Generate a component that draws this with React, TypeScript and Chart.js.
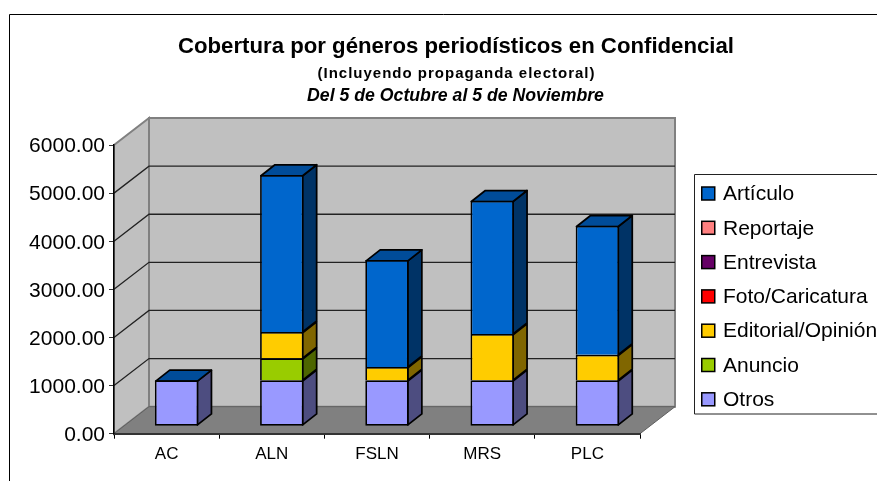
import React, { useEffect, useRef } from "react";
import { Chart, registerables } from "chart.js";

Chart.register(...registerables);

const categories = ["AC", "ALN", "FSLN", "MRS", "PLC"];
const otros = [956, 956, 956, 956, 956];
const anuncio = [0, 458, 0, 0, 0];
const editorial = [0, 547, 276, 963, 533];
const foto = [0, 0, 0, 0, 0];
const entrevista = [0, 0, 0, 0, 0];
const reportaje = [0, 0, 0, 0, 0];
const articulo = [0, 3264, 2225, 2771, 2681];
const yTicks = [0, 1000, 2000, 3000, 4000, 5000, 6000];

const titleMain = "Cobertura por géneros periodísticos en Confidencial";
const titleSub = "(Incluyendo propaganda electoral)";
const titleDates = "Del 5 de Octubre al 5 de Noviembre";

const FONT = '"Liberation Sans", Arial, sans-serif';

const seriesDefs = [
  { label: "Otros", data: otros, color: "#9999FF", side: "#4D4D80" },
  { label: "Anuncio", data: anuncio, color: "#99CC00", side: "#4D6600" },
  { label: "Editorial/Opinión", data: editorial, color: "#FFCC00", side: "#806600" },
  { label: "Foto/Caricatura", data: foto, color: "#FF0000", side: "#800000" },
  { label: "Entrevista", data: entrevista, color: "#660066", side: "#330033" },
  { label: "Reportaje", data: reportaje, color: "#FF8080", side: "#804040" },
  { label: "Artículo", data: articulo, color: "#0066CC", side: "#003366" },
];
const TOP_FACE = "#004C99";

// wall depth and bar placement inside the depth
const WALL_DX = 35;
const WALL_DY = -27;
const BAR_DX = 10;
const BAR_DY = -7.4;
const BAR_DEPTH_X = 14;
const BAR_DEPTH_Y = -11;
const LINE = 1.75;

function poly(ctx: CanvasRenderingContext2D, pts: number[][]) {
  ctx.beginPath();
  pts.forEach((p, i) => (i ? ctx.lineTo(p[0], p[1]) : ctx.moveTo(p[0], p[1])));
  ctx.closePath();
}

const scene = {
  id: "scene",
  beforeDraw(chart: any) {
    const ctx: any = chart.ctx;
    const { left, right } = chart.chartArea;
    const y = chart.scales.y;
    const top = y.getPixelForValue(6000);
    const bot = y.getPixelForValue(0);
    ctx.save();
    // outer frame: only its left and top edges fall inside the picture
    ctx.strokeStyle = "#000";
    ctx.lineWidth = 1;
    ctx.beginPath();
    ctx.moveTo(9.5, 481);
    ctx.lineTo(9.5, 14.5);
    ctx.lineTo(877, 14.5);
    ctx.stroke();

    // titles
    ctx.fillStyle = "#000";
    ctx.textAlign = "center";
    ctx.textBaseline = "alphabetic";
    ctx.font = `bold 22.2px ${FONT}`;
    ctx.fillText(titleMain, 456, 53);
    ctx.font = `bold 15px ${FONT}`;
    ctx.letterSpacing = "1px";
    ctx.fillText(titleSub, 456.5, 77.5);
    ctx.letterSpacing = "0px";
    ctx.font = `italic bold 17.7px ${FONT}`;
    ctx.fillText(titleDates, 455.5, 101);

    // walls and floor
    ctx.lineWidth = 2;
    ctx.strokeStyle = "#808080";
    ctx.fillStyle = "#C0C0C0";
    poly(ctx, [[left + WALL_DX, top + WALL_DY], [right + WALL_DX, top + WALL_DY], [right + WALL_DX, bot + WALL_DY], [left + WALL_DX, bot + WALL_DY]]);
    ctx.fill();
    ctx.stroke();
    poly(ctx, [[left, top], [left + WALL_DX, top + WALL_DY], [left + WALL_DX, bot + WALL_DY], [left, bot]]);
    ctx.fill();
    ctx.stroke();
    ctx.fillStyle = "#808080";
    ctx.strokeStyle = "#606060";
    ctx.lineWidth = 1;
    poly(ctx, [[left, bot], [left + WALL_DX, bot + WALL_DY], [right + WALL_DX, bot + WALL_DY], [right, bot]]);
    ctx.fill();
    ctx.stroke();

    // gridlines on the walls
    ctx.strokeStyle = "#222";
    ctx.lineWidth = 1.3;
    yTicks.slice(1, -1).forEach((v) => {
      const py = y.getPixelForValue(v);
      ctx.beginPath();
      ctx.moveTo(left, py);
      ctx.lineTo(left + WALL_DX, py + WALL_DY);
      ctx.lineTo(right + WALL_DX, py + WALL_DY);
      ctx.stroke();
    });

    // legend
    const lx = 694.5, ly = 174.5, lh = 239.5;
    ctx.fillStyle = "#fff";
    ctx.fillRect(lx, ly, 877 - lx, lh);
    ctx.strokeStyle = "#222";
    ctx.lineWidth = 1;
    ctx.beginPath();
    ctx.moveTo(877, ly);
    ctx.lineTo(lx, ly);
    ctx.lineTo(lx, ly + lh);
    ctx.lineTo(877, ly + lh);
    ctx.stroke();
    ctx.textAlign = "left";
    ctx.textBaseline = "middle";
    ctx.font = `21px ${FONT}`;
    [...seriesDefs].reverse().forEach((s, i) => {
      const cy = 193.5 + i * 34.3;
      ctx.fillStyle = s.color;
      ctx.fillRect(701.75, cy - 6.5, 13, 13);
      ctx.strokeStyle = "#000";
      ctx.lineWidth = 1.5;
      ctx.strokeRect(701.75, cy - 6.5, 13, 13);
      ctx.fillStyle = "#000";
      ctx.fillText(s.label, 723, cy + 1);
    });
    ctx.restore();
  },
  beforeDatasetsDraw(chart: any) {
    const ctx: CanvasRenderingContext2D = chart.ctx;
    ctx.save();
    ctx.strokeStyle = "#000";
    ctx.lineWidth = LINE;
    ctx.lineJoin = "round";
    const tops = categories.map(() => null as any);
    seriesDefs.forEach((s, d) => {
      chart.getDatasetMeta(d).data.forEach((el: any, i: number) => {
        const xr = el.x + el.width / 2 + BAR_DX - LINE / 2;
        const yt = el.y + BAR_DY + LINE / 2;
        const yb = el.base + BAR_DY - (d === 0 ? LINE / 2 : 0);
        if (s.data[i] > 0) {
          ctx.fillStyle = s.side;
          poly(ctx, [[xr, yt], [xr + BAR_DEPTH_X, yt + BAR_DEPTH_Y], [xr + BAR_DEPTH_X, yb + BAR_DEPTH_Y], [xr, yb]]);
          ctx.fill();
          ctx.stroke();
          tops[i] = { xr, xl: el.x - el.width / 2 + BAR_DX + LINE / 2, yt };
        }
      });
    });
    tops.forEach((t) => {
      if (!t) return;
      ctx.fillStyle = TOP_FACE;
      poly(ctx, [[t.xl, t.yt], [t.xr, t.yt], [t.xr + BAR_DEPTH_X, t.yt + BAR_DEPTH_Y], [t.xl + BAR_DEPTH_X, t.yt + BAR_DEPTH_Y]]);
      ctx.fill();
      ctx.stroke();
    });
    ctx.restore();
    // the library's own bars become the front faces, moved into the depth
    ctx.save();
    ctx.translate(BAR_DX, BAR_DY);
  },
  afterDatasetsDraw(chart: any) {
    chart.ctx.restore();
  },
};

export default function App() {
  const ref = useRef<HTMLCanvasElement>(null);
  useEffect(() => {
    document.body.style.margin = "0";
    document.body.style.background = "#fff";
    const chart = new Chart(ref.current!, {
      type: "bar",
      data: {
        labels: categories,
        datasets: seriesDefs.map((s, i) => ({
          label: s.label,
          data: s.data,
          backgroundColor: s.color,
          borderColor: "#000",
          borderWidth: LINE,
          borderSkipped: i === 0 ? false : "start",
          barPercentage: 0.413,
          categoryPercentage: 1,
          clip: false as any,
        })),
      },
      options: {
        animation: false,
        responsive: false,
        devicePixelRatio: 1,
        layout: { padding: { left: 0, top: 145, right: 237, bottom: 17.3 } },
        plugins: { legend: { display: false }, title: { display: false }, tooltip: { enabled: false } },
        scales: {
          x: {
            stacked: true,
            afterFit: (s: any) => { s.height = 30; },
            grid: { drawOnChartArea: false, drawTicks: true, tickLength: 5, color: "#000" },
            border: { color: "#333", width: 2 },
            ticks: { color: "#000", font: { family: FONT, size: 17 }, padding: 5, maxRotation: 0 },
          },
          y: {
            stacked: true,
            min: 0,
            max: 6000,
            afterFit: (s: any) => { s.width = 114; },
            afterBuildTicks: (s: any) => { s.ticks = yTicks.map((value) => ({ value })); },
            grid: { drawOnChartArea: false, drawTicks: true, tickLength: 5, color: "#333" },
            border: { color: "#000", width: 1.5 },
            ticks: {
              color: "#000",
              font: { family: FONT, size: 21 },
              padding: 4,
              labelOffset: 1.5,
              callback: (v: any) => Number(v).toFixed(2),
            },
          },
        },
      },
      plugins: [scene],
    } as any);
    return () => chart.destroy();
  }, []);
  return <canvas ref={ref} width={877} height={481} style={{ display: "block" }} />;
}
